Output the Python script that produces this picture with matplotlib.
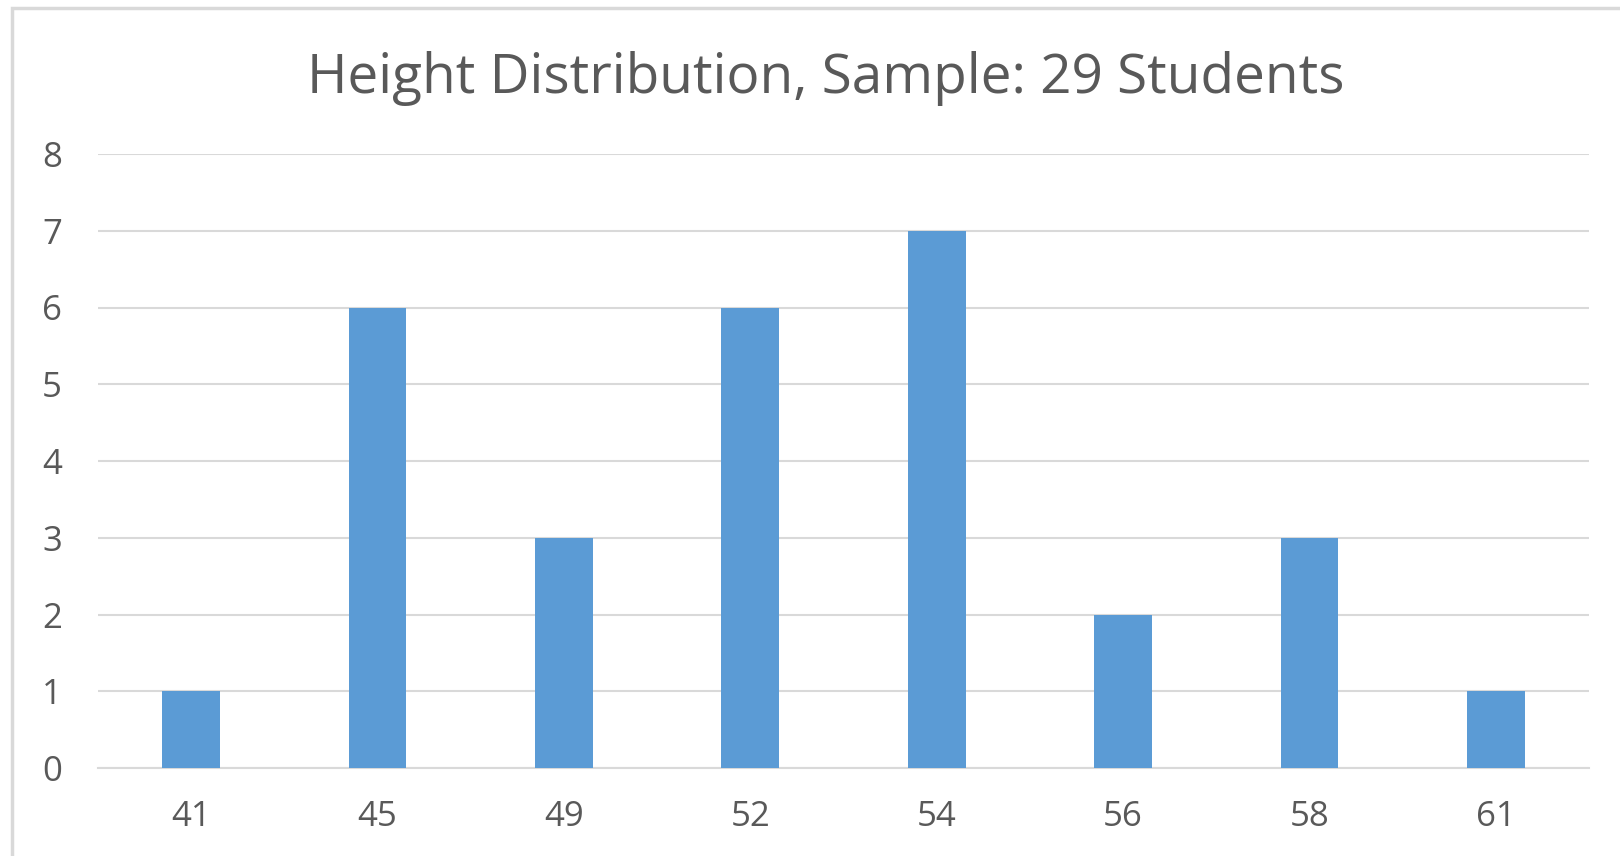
import matplotlib
matplotlib.use("Agg")
import matplotlib.pyplot as plt
from matplotlib.patches import Rectangle

# data
heights = ["41", "45", "49", "52", "54", "56", "58", "61"]
counts = [1, 6, 3, 6, 7, 2, 3, 1]
title = "Height Distribution, Sample: 29 Students"

plt.rcParams['font.family'] = ['Open Sans', 'DejaVu Sans']

fig = plt.figure(figsize=(16.2, 8.56), dpi=100)
W, H = 1620, 856
ax = fig.add_axes([98 / W, (H - 768) / H, (1589 - 98) / W, (768 - 154) / H])

x = range(len(heights))
ax.bar(x, counts, width=0.31, color="#5B9BD5", zorder=3)
ax.set_xlim(-0.5, len(heights) - 0.5)
ax.set_ylim(0, 8)
ax.set_yticks(range(0, 9))
ax.set_xticks(list(x))
ax.set_xticklabels(heights)

ax.grid(axis="y", color="#D9D9D9", linewidth=1.5, zorder=0)
for s in ["top", "right", "left"]:
    ax.spines[s].set_visible(False)
ax.spines["bottom"].set_color("#D9D9D9")
ax.spines["bottom"].set_linewidth(1.5)
ax.tick_params(axis="both", length=0, labelsize=25, colors="#595959")
ax.tick_params(axis="y", pad=26)
ax.tick_params(axis="x", pad=23)

fig.text(826 / W, 1 - 79 / H, title, ha="center", va="center",
         fontsize=39.5, color="#595959")

# outer chart frame (cut off on the right and bottom)
fig.patches.append(Rectangle((12 / W, -0.1), 1.2, 1 - 8 / H + 0.1,
                             transform=fig.transFigure, fill=False,
                             edgecolor="#D9D9D9", linewidth=2.5))

fig.savefig("out.png", dpi=100)
